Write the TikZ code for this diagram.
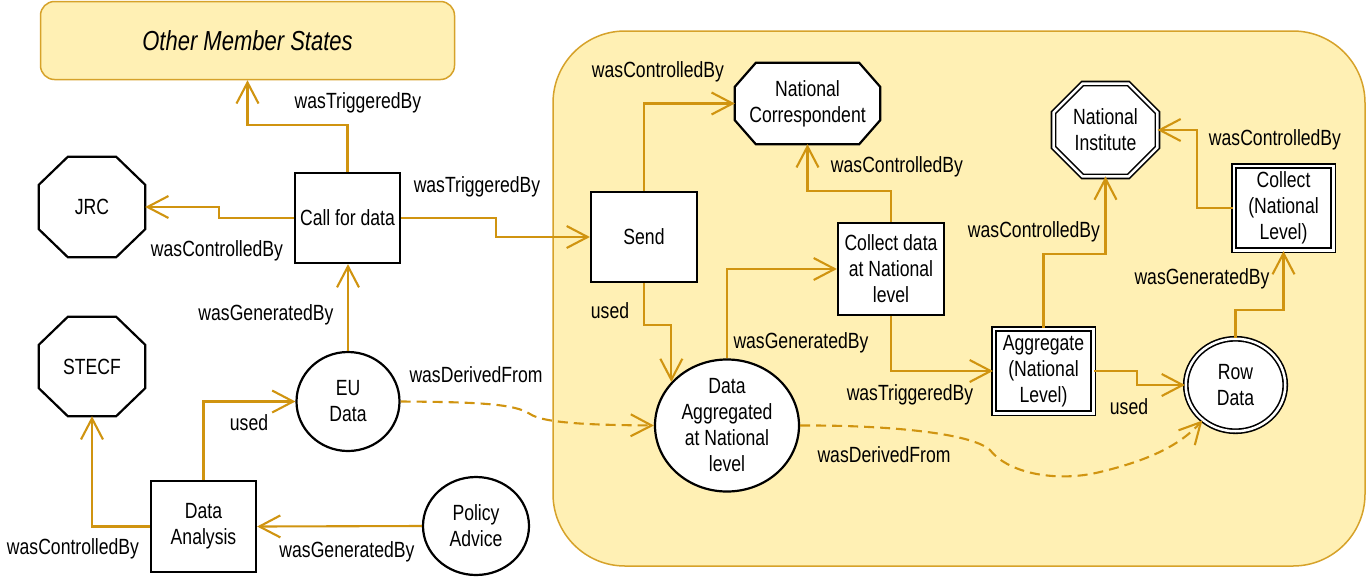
\documentclass[tikz,border=0pt]{standalone}
\usepackage{fontspec}
\setmainfont{Liberation Sans}[FakeStretch=0.8]
\usetikzlibrary{arrows.meta,calc,shapes.geometric}
\definecolor{edgegold}{HTML}{D09410}
\definecolor{zonefill}{HTML}{FFF0B4}
\definecolor{zoneline}{HTML}{D6A22A}

% octagon: name, x, y, width, height, x-cut, y-cut, text, line style
\newcommand\octagon[9]{%
  \node[frame, minimum width=#4pt, minimum height=#5pt] (#1) at (#2,#3) {};
  \filldraw[fill=white, #9]
    ($(#1.north west)+(#6,0)$) -- ($(#1.north east)+(-#6,0)$) --
    ($(#1.north east)+(0,#7)$) -- ($(#1.south east)+(0,-#7)$) --
    ($(#1.south east)+(-#6,0)$) -- ($(#1.south west)+(#6,0)$) --
    ($(#1.south west)+(0,-#7)$) -- ($(#1.north west)+(0,#7)$) -- cycle;
  \node[align=center] at (#1.center) {#8};}

\begin{document}
\begin{tikzpicture}[x=1pt,y=-1pt,
  font=\fontsize{22}{26}\selectfont,
  box/.style={draw=black, line width=2.2pt, fill=white, align=center, inner sep=0pt},
  dbox/.style={draw=black, double=white, double distance=2.5pt, line width=1.6pt,
    fill=white, align=center, inner sep=0pt},
  frame/.style={draw=none, fill=none, inner sep=0pt},
  octline/.style={draw=black, line width=2.2pt},
  octdbl/.style={draw=black, double=white, double distance=2.5pt, line width=1.6pt},
  link/.style={draw=edgegold, line width=2.1pt, -{Straight Barb[length=21pt,width=22pt]}},
  derived/.style={link, dash pattern=on 10pt off 6pt},
  lbl/.style={inner sep=0pt, text=black}]

\useasboundingbox (0,0) rectangle (1368,582);

% national zone and the other member states
\draw[draw=zoneline, fill=zonefill, line width=1.5pt, rounded corners=72pt]
  (553,31) rectangle (1365,566);
\node[draw=zoneline, fill=zonefill, line width=1.5pt, rounded corners=14pt,
  minimum width=414pt, minimum height=78pt,
  font=\fontsize{27.5}{30}\selectfont\itshape] (oms) at (247.5,40.5) {Other Member States};

% agents
\octagon{jrc}{92}{207}{106}{100}{29}{28}{JRC}{octline}
\octagon{stecf}{92}{366.5}{106}{99}{29}{28}{STECF}{octline}
\octagon{nc}{807.5}{103.5}{145}{81}{21}{24}{National\\Correspondent}{octline}
\octagon{ni}{1105.5}{130}{103.5}{92.5}{29}{29}{National\\Institute}{octdbl}

% activities
\node[box, minimum width=105pt, minimum height=90pt] (call) at (347.5,218) {Call for data};
\node[box, minimum width=105pt, minimum height=91pt] (da) at (203.5,526.5) {Data\\Analysis};
\node[box, minimum width=106pt, minimum height=90pt] (send) at (644,237) {Send};
\node[box, minimum width=106pt, minimum height=92pt] (cd) at (891,269) {Collect data\\at National\\level};
\node[dbox, minimum width=99.5pt, minimum height=84.5pt] (agg) at (1043.5,371) {Aggregate\\(National\\Level)};
\node[dbox, minimum width=99.5pt, minimum height=84.5pt] (cnl) at (1283.5,208) {Collect\\(National\\Level)};

% entities
\node[box, ellipse, minimum width=103pt, minimum height=99pt] (eu) at (348,401.5) {EU\\Data};
\node[box, ellipse, minimum width=106pt, minimum height=98pt] (pa) at (476,526) {Policy\\Advice};
\node[box, ellipse, minimum width=144pt, minimum height=109pt] (dan) at (727,425.5) {Data\\Aggregated\\at National\\level};
\node[dbox, ellipse, minimum width=99.5pt, minimum height=92.5pt] (rd) at (1235.5,385) {Row\\Data};

% relations
\draw[link] (call.north) -- ++(0,-47) -| (oms.south);
\draw[link] (call.west) -- ++(-75,0) |- (jrc.east);
\draw[link] (call.east) -- ++(95,0) |- (send.west);
\draw[link] (eu.north) -- (eu.north |- call.south);
\draw[link] (da.north) |- (eu.west);
\draw[link] (da.west) -| (stecf.south);
\draw[link] (pa.west) -- (da.east);
\draw[link] (send.north) |- (nc.west);
\draw[link] (send.south) -- ++(0,42) -| (dan.142);
\draw[link] (dan.north) |- (cd.west);
\draw[link] (cd.north) -- ++(0,-31) -| (nc.south);
\draw[link] (cd.south) |- (agg.west);
\draw[link] (agg.north) -- ++(0,-74) -| (ni.south);
\draw[link] (agg.east) -- ++(43,0) |- (rd.west);
\draw[link] (rd.north) -- ++(0,-28) -| (cnl.south);
\draw[link] (cnl.west) -- ++(-36,0) |- (ni.east);
\draw[derived] (eu.east) .. controls (480,402) and (515,404) .. (530,414)
  .. controls (545,424) and (600,425) .. (dan.west);
\draw[derived] (dan.east) .. controls (880,425) and (970,432) .. (990,450)
  .. controls (1010,475) and (1060,482) .. (1100,472)
  .. controls (1150,460) and (1180,445) .. (rd.227);

% relation names
\node[lbl] (t1) at (358,103) {wasTriggeredBy};
\node[lbl] (t2) at (217,251) {wasControlledBy};
\node[lbl] (t3) at (477,187) {wasTriggeredBy};
\node[lbl] (t4) at (266,315) {wasGeneratedBy};
\node[lbl] (t5) at (249,423) {used};
\node[lbl] (t6) at (73,549) {wasControlledBy};
\node[lbl] (t7) at (347,552) {wasGeneratedBy};
\node[lbl] (t8) at (476,375) {wasDerivedFrom};
\node[lbl] (t9) at (658,72) {wasControlledBy};
\node[lbl] (t10) at (610,311) {used};
\node[lbl] (t11) at (801,343) {wasGeneratedBy};
\node[lbl] (t12) at (897,167) {wasControlledBy};
\node[lbl] (t13) at (910,395) {wasTriggeredBy};
\node[lbl] (t14) at (1034,232) {wasControlledBy};
\node[lbl] (t15) at (1129,407) {used};
\node[lbl] (t16) at (1202,279) {wasGeneratedBy};
\node[lbl] (t17) at (1275,140) {wasControlledBy};
\node[lbl] (t18) at (884,455) {wasDerivedFrom};
\end{tikzpicture}
\end{document}
